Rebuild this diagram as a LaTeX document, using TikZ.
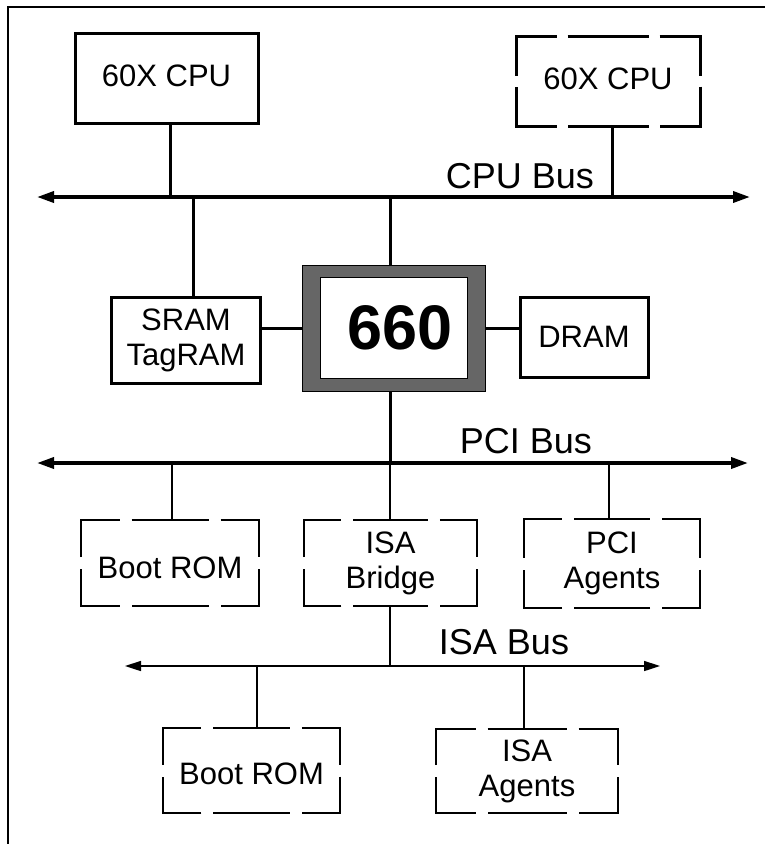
\documentclass[tikz,border=0pt]{standalone}
\usepackage{fontspec}
\setmainfont{Liberation Sans}
\usetikzlibrary{arrows.meta,calc}
\definecolor{chipgrey}{HTML}{666666}
\tikzset{
  txt/.style={font=\fontsize{31}{35}\selectfont, align=center},
  solidbox/.style={txt, draw, line width=3pt, inner sep=0pt, outer sep=0pt},
  gapnode/.style={txt, inner sep=0pt, outer sep=0pt},
  thickgap/.style={line width=3pt, line cap=butt, line join=miter},
  thingap/.style={line width=1.3pt, line cap=butt, line join=miter},
  thickline/.style={line width=3pt},
  thinline/.style={line width=1.3pt},
  busline/.style={line width=3.5pt, {Triangle[length=17pt,width=11pt]}-{Triangle[length=17pt,width=11pt]}},
  thinbus/.style={line width=1.6pt, {Triangle[length=16pt,width=10pt]}-{Triangle[length=16pt,width=10pt]}},
  buslabel/.style={font=\fontsize{36}{40}\selectfont, inner sep=0pt},
}
\newcommand\gapframe[3]{%
  \draw[#2] ($(#1.west)+(0pt,#3)$) |- ($(#1.north west)!.25!(#1.north east)-(#3,0pt)$);
  \draw[#2] ($(#1.north west)!.25!(#1.north east)+(#3,0pt)$) -- ($(#1.north west)!.75!(#1.north east)-(#3,0pt)$);
  \draw[#2] ($(#1.north west)!.75!(#1.north east)+(#3,0pt)$) -| ($(#1.east)+(0pt,#3)$);
  \draw[#2] ($(#1.east)-(0pt,#3)$) |- ($(#1.south west)!.75!(#1.south east)+(#3,0pt)$);
  \draw[#2] ($(#1.south west)!.75!(#1.south east)-(#3,0pt)$) -- ($(#1.south west)!.25!(#1.south east)+(#3,0pt)$);
  \draw[#2] ($(#1.south west)!.25!(#1.south east)-(#3,0pt)$) -| ($(#1.west)-(0pt,#3)$);
}
\newcommand\lowertext[2]{\raisebox{0pt}[\dimexpr\height+#1\relax][0pt]{#2}}
\newcommand\highertext[2]{\raisebox{0pt}[\height][#1]{#2}}
\begin{document}
\begin{tikzpicture}[x=1pt,y=-1pt]
\useasboundingbox (0,0) rectangle (765,844);
% frame
\draw[line width=2pt] (8,844) -- (8,7) -- (766,7);

% boxes
\node[solidbox, minimum width=183pt, minimum height=90pt] (cpu1) at (166.5,78) {\highertext{4pt}{60X CPU}};
\node[gapnode, minimum width=184pt, minimum height=90pt] (cpu2) at (608,81) {\highertext{4pt}{60X CPU}};
\gapframe{cpu2}{thickgap}{5.5pt}
\node[solidbox, minimum width=149pt, minimum height=86pt] (sram) at (186,340) {SRAM\\TagRAM};
\node[solidbox, minimum width=128pt, minimum height=80pt] (dram) at (584,337) {DRAM};
\node[draw, line width=1pt, fill=chipgrey, minimum width=183pt, minimum height=126pt, inner sep=0pt, outer sep=0pt] (chip) at (393.5,328) {};
\node[draw, line width=1pt, fill=white, minimum width=147pt, minimum height=101pt, inner sep=0pt,
      font=\fontsize{63}{70}\selectfont\bfseries] (chipin) at (393.5,328) {\hspace*{13pt}660};

\node[gapnode, minimum width=178pt, minimum height=86pt] (bootA) at (170,563) {\lowertext{10pt}{Boot ROM}};
\gapframe{bootA}{thingap}{6pt}
\node[gapnode, minimum width=173pt, minimum height=86pt] (isabr) at (390.5,563) {ISA\\Bridge};
\gapframe{isabr}{thingap}{6pt}
\node[gapnode, minimum width=176pt, minimum height=89pt] (pciag) at (612,563.5) {PCI\\Agents};
\gapframe{pciag}{thingap}{6pt}
\node[gapnode, minimum width=177pt, minimum height=85pt] (bootB) at (251.5,770.5) {\lowertext{6pt}{Boot ROM}};
\gapframe{bootB}{thingap}{6pt}
\node[gapnode, minimum width=182pt, minimum height=84pt] (isaag) at (527,771) {ISA\\Agents};
\gapframe{isaag}{thingap}{6pt}

% buses
\coordinate (cpuL) at (37,197);
\coordinate (cpuR) at (750,197);
\coordinate (pciL) at (37,463);
\coordinate (pciR) at (748,463);
\coordinate (isaL) at (125,666);
\coordinate (isaR) at (660,666);
\draw[busline] (cpuL) -- (cpuR);
\draw[busline] (pciL) -- (pciR);
\draw[thinbus] (isaL) -- (isaR);
\node[buslabel] (cpulab) at (520,176) {CPU Bus};
\node[buslabel] (pcilab) at (526,441) {PCI Bus};
\node[buslabel] (isalab) at (504,642) {ISA Bus};

% taps
\coordinate (t1) at (170,197);
\coordinate (t2) at (612,197);
\coordinate (t3) at (193,197);
\coordinate (t4) at (390,197);
\draw[thickline] (cpu1.south -| t1) -- (t1);
\draw[thickline] (cpu2.south -| t2) -- (t2);
\draw[thickline] (t3) -- (sram.north -| t3);
\draw[thickline] (t4) -- (chip.north -| t4);
\draw[thickline] (chip.west) -- (chip.west -| sram.east);
\draw[thickline] (chip.east) -- (chip.east -| dram.west);

\coordinate (p0) at (390,463);
\coordinate (p1) at (172,463);
\coordinate (p2) at (390,463);
\coordinate (p3) at (609,463);
\draw[thickline] (chip.south -| p0) -- (p0);
\draw[thinline] (p1) -- (bootA.north -| p1);
\draw[thinline] (p2) -- (isabr.north -| p2);
\draw[thinline] (p3) -- (pciag.north -| p3);

\coordinate (i0) at (390,666);
\coordinate (i1) at (257,666);
\coordinate (i2) at (524,666);
\draw[thinline] (isabr.south -| i0) -- (i0);
\draw[thinline] (i1) -- (bootB.north -| i1);
\draw[thinline] (i2) -- (isaag.north -| i2);
\end{tikzpicture}
\end{document}
